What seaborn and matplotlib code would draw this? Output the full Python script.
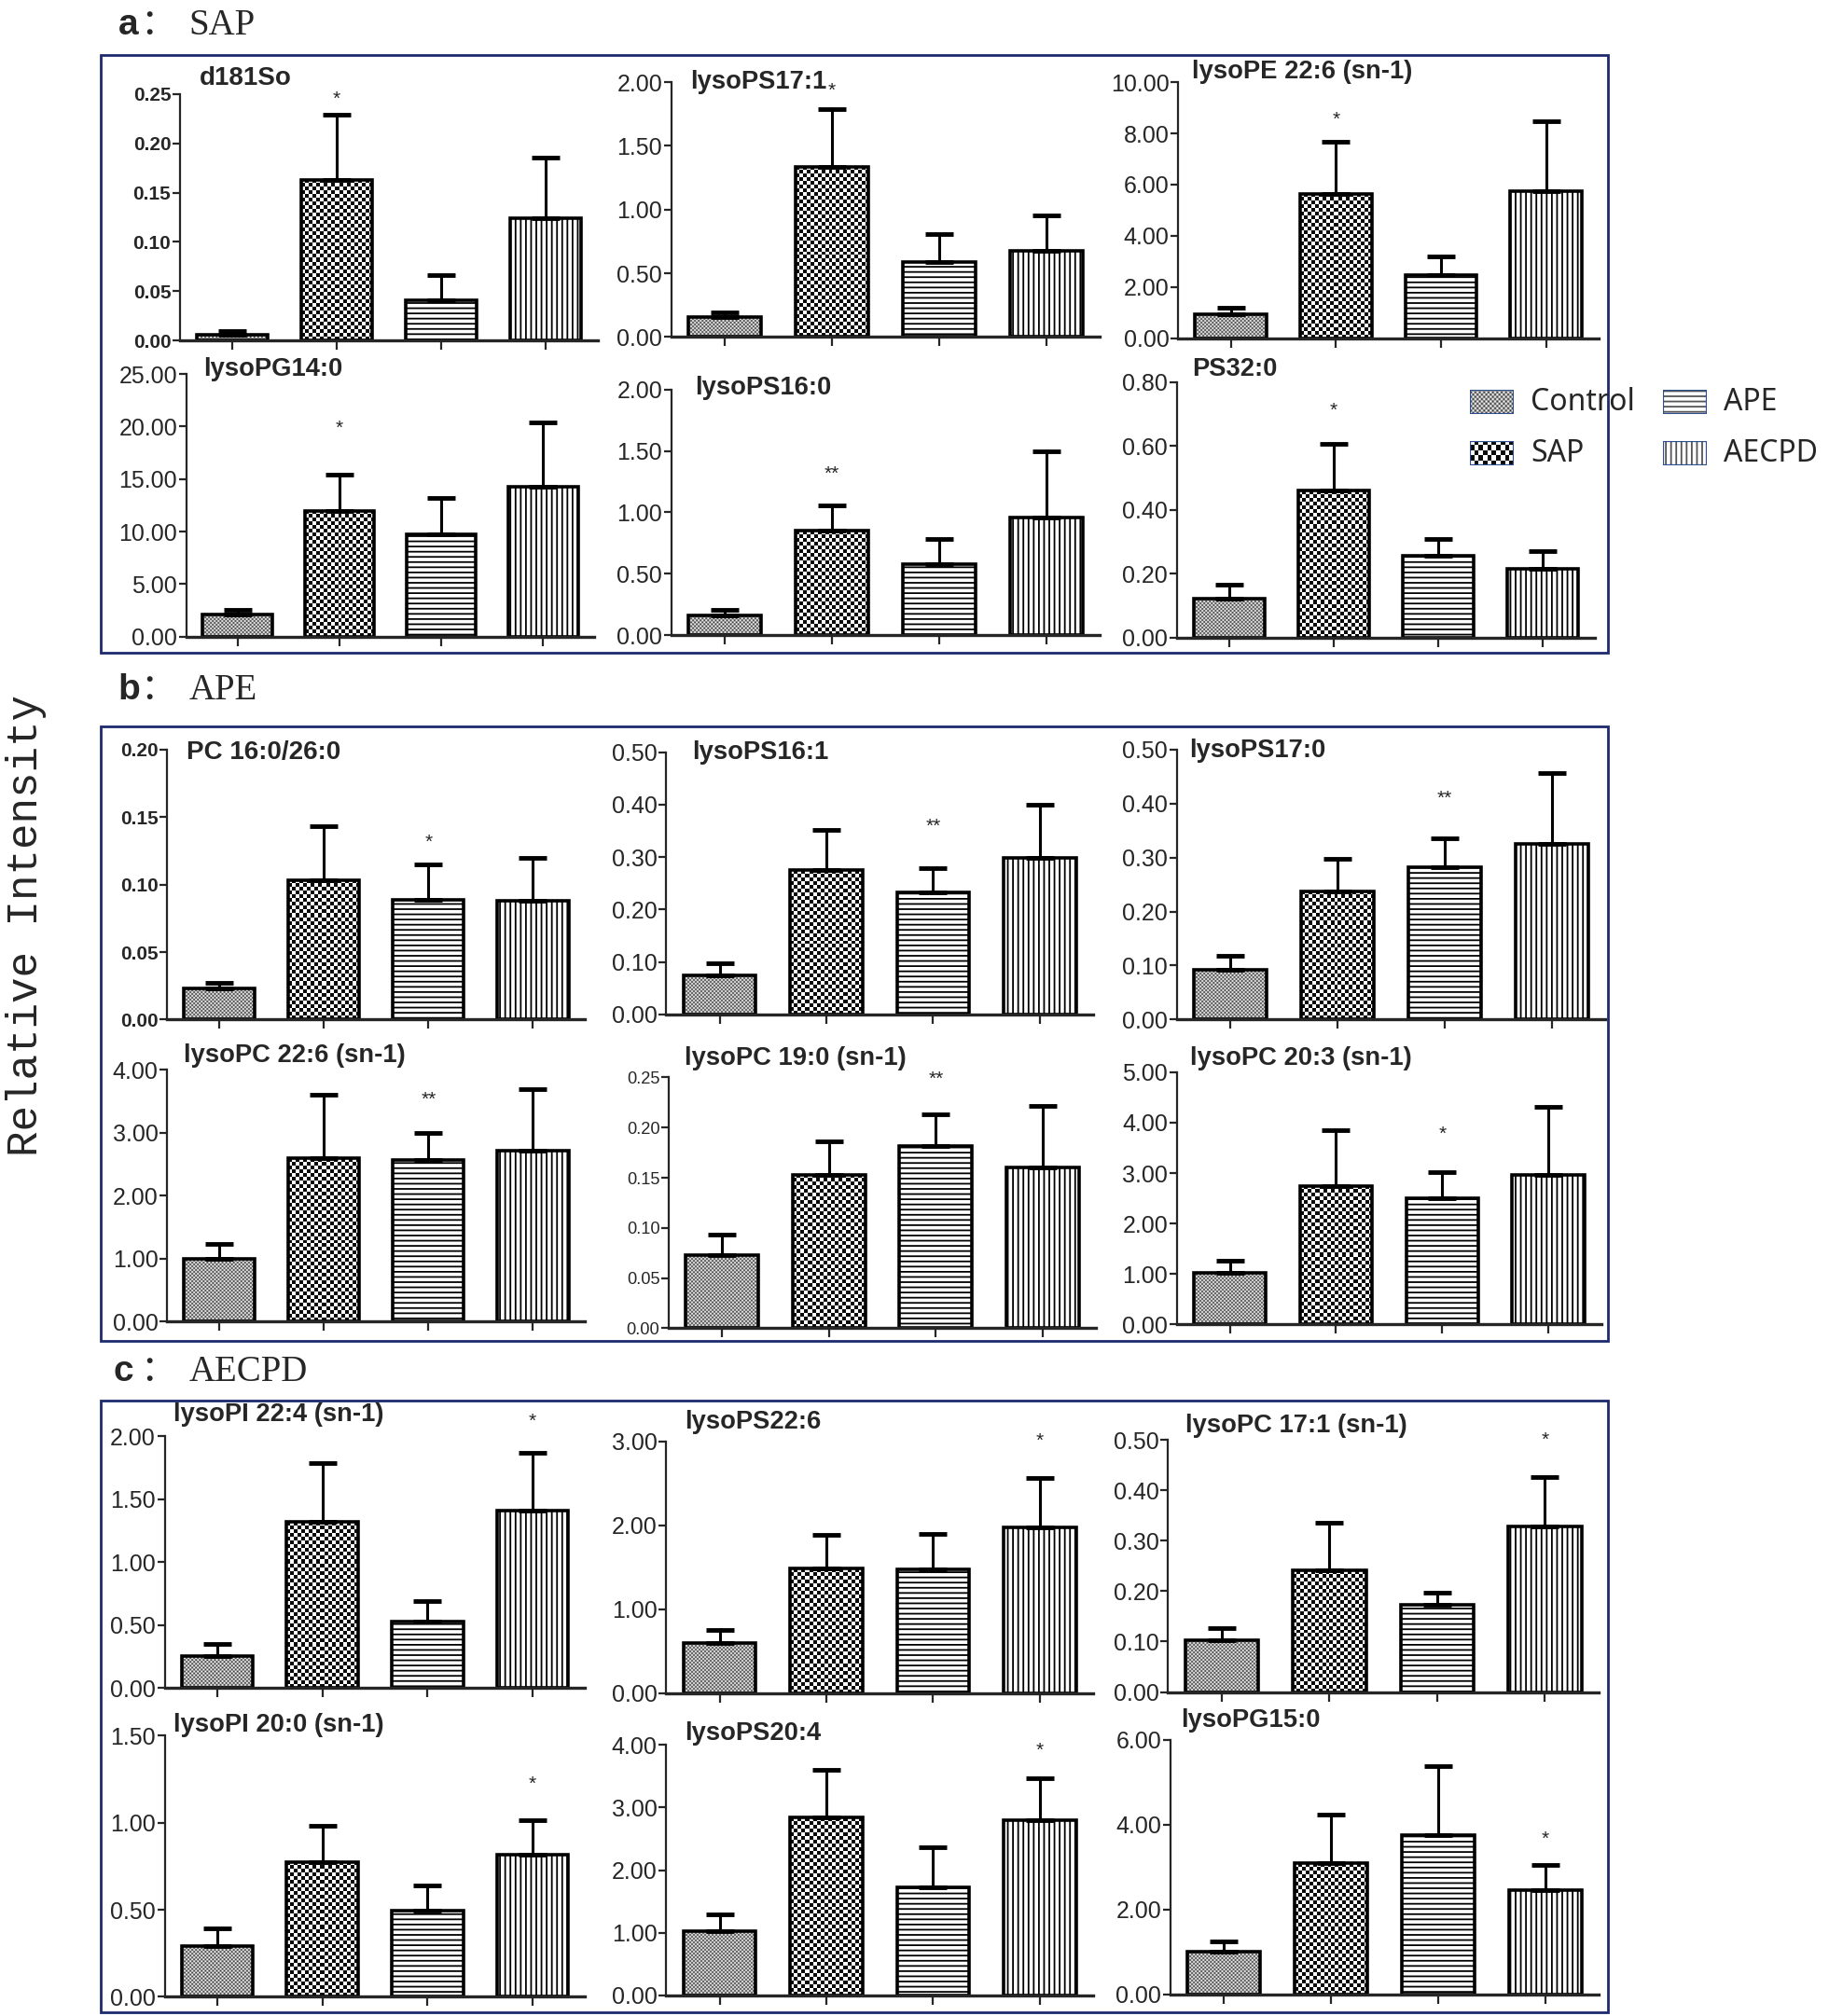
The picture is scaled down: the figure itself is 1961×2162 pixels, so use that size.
import numpy as np
import pandas as pd
import seaborn as sns
import matplotlib.pyplot as plt
from matplotlib import font_manager
from matplotlib.colors import ListedColormap
from matplotlib.patches import Rectangle

groups = ['Control', 'SAP', 'APE', 'AECPD']

# a: SAP
titles_a = ['d181So', 'lysoPS17:1', 'lysoPE 22:6 (sn-1)', 'lysoPG14:0', 'lysoPS16:0', 'PS32:0']
means_a = [[0.0063, 0.163, 0.041, 0.124],
           [0.156, 1.334, 0.589, 0.678],
           [0.93, 5.65, 2.48, 5.75],
           [2.06, 12.0, 9.73, 14.25],
           [0.158, 0.85, 0.58, 0.96],
           [0.121, 0.459, 0.256, 0.214]]
upper_a = [[0.0095, 0.229, 0.066, 0.185],
           [0.194, 1.79, 0.81, 0.957],
           [1.2, 7.68, 3.21, 8.47],
           [2.54, 15.4, 13.2, 20.4],
           [0.206, 1.057, 0.78, 1.50],
           [0.166, 0.607, 0.309, 0.27]]
ymax_a = [0.25, 2.0, 10.0, 25.0, 2.0, 0.8]
ystep_a = [0.05, 0.5, 2.0, 5.0, 0.5, 0.2]
stars_a = ['*', '*', '*', '*', '**', '*']
star_y_a = [0.245, 1.93, 8.53, 19.8, 1.31, 0.711]

# b: APE
titles_b = ['PC 16:0/26:0', 'lysoPS16:1', 'lysoPS17:0', 'lysoPC 22:6 (sn-1)', 'lysoPC 19:0 (sn-1)', 'lysoPC 20:3 (sn-1)']
means_b = [[0.0229, 0.103, 0.0887, 0.088],
           [0.074, 0.275, 0.233, 0.298],
           [0.093, 0.237, 0.282, 0.326],
           [1.0, 2.59, 2.56, 2.72],
           [0.0727, 0.153, 0.182, 0.160],
           [1.02, 2.75, 2.51, 2.97]]
upper_b = [[0.0274, 0.143, 0.115, 0.120],
           [0.097, 0.352, 0.279, 0.40],
           [0.118, 0.298, 0.336, 0.456],
           [1.23, 3.6, 3.0, 3.69],
           [0.0936, 0.186, 0.213, 0.222],
           [1.26, 3.86, 3.02, 4.32]]
ymax_b = [0.2, 0.5, 0.5, 4.0, 0.25, 5.0]
ystep_b = [0.05, 0.1, 0.1, 1.0, 0.05, 1.0]
stars_b = ['*', '**', '**', '**', '**', '*']
star_y_b = [0.131, 0.358, 0.409, 3.52, 0.248, 3.78]

# c: AECPD
titles_c = ['lysoPI 22:4 (sn-1)', 'lysoPS22:6', 'lysoPC 17:1 (sn-1)', 'lysoPI 20:0 (sn-1)', 'lysoPS20:4', 'lysoPG15:0']
means_c = [[0.256, 1.317, 0.53, 1.407],
           [0.593, 1.484, 1.48, 1.975],
           [0.102, 0.241, 0.173, 0.328],
           [0.292, 0.775, 0.494, 0.815],
           [1.03, 2.84, 1.72, 2.80],
           [1.0, 3.08, 3.75, 2.46]]
upper_c = [[0.349, 1.79, 0.69, 1.87],
           [0.753, 1.884, 1.898, 2.564],
           [0.127, 0.335, 0.197, 0.427],
           [0.392, 0.984, 0.64, 1.016],
           [1.29, 3.6, 2.37, 3.47],
           [1.24, 4.23, 5.37, 3.05]]
ymax_c = [2.0, 3.0, 0.5, 1.5, 4.0, 6.0]
ystep_c = [0.5, 1.0, 0.1, 0.5, 1.0, 2.0]
stars_c = ['*'] * 6
star_y_c = [2.12, 3.0, 0.50, 1.22, 3.90, 3.66]

panels = [('a', 'SAP', 1, titles_a, means_a, upper_a, ymax_a, ystep_a, stars_a, star_y_a),
          ('b', 'APE', 2, titles_b, means_b, upper_b, ymax_b, ystep_b, stars_b, star_y_b),
          ('c', 'AECPD', 3, titles_c, means_c, upper_c, ymax_c, ystep_c, stars_c, star_y_c)]

sns.set_style('ticks')
plt.rcParams['font.family'] = ['Liberation Sans', 'DejaVu Sans']
plt.rcParams['hatch.linewidth'] = 1.3

names = {f.name for f in font_manager.fontManager.ttflist}
if 'Liberation Sans Narrow' in names:
    NARROW, nscale = 'Liberation Sans Narrow', 1.0
else:
    NARROW, nscale = 'Liberation Sans', 0.82

W, H = 1422.0, 1568.0   # layout measured on the shrunk reference


def fx(x):
    return x / W


def fy(y):
    return 1 - y / H


# axes boxes: left, bottom, right, top
boxes = [(140, 265, 465, 73), (522, 262, 855, 64), (916, 263, 1243, 64),
         (145, 495, 462, 291), (522, 494, 855, 303), (915, 496, 1240, 297),
         (130, 793, 455, 583), (518, 789, 850, 585), (915, 793, 1248, 583),
         (130, 1028, 455, 832), (520, 1033, 852, 838), (915, 1030, 1245, 834),
         (128, 1313, 455, 1117), (518, 1317, 850, 1121), (908, 1316, 1243, 1120),
         (128, 1553, 455, 1350), (518, 1552, 850, 1357), (910, 1551, 1243, 1353)]
title_pos = [(155, 61), (537, 64), (927, 56), (158, 287), (540, 302), (927, 287),
             (145, 585), (538, 585), (925, 584), (143, 821), (532, 823), (925, 823),
             (135, 1100), (532, 1106), (922, 1109), (135, 1342), (532, 1348), (918, 1338)]
frames = [(78, 43, 1250, 508), (78, 565, 1250, 1043), (78, 1089, 1250, 1565)]
label_pos = [(92, 27), (92, 544), (88, 1074)]

checker_cell = {'Control': (2, '#3a3a3a'), 'SAP': (4, '#0a0a0a')}
hatches = {'APE': '---', 'AECPD': '|||'}


def fill_checker(ax, patch, cell, dark):
    bb = patch.get_window_extent()
    nx = max(1, int(round(bb.width / cell)))
    ny = max(1, int(round(bb.height / cell)))
    arr = np.add.outer(np.arange(ny), np.arange(nx)) % 2
    x0, y0 = patch.get_x(), patch.get_y()
    ax.imshow(arr, extent=(x0, x0 + patch.get_width(), y0, y0 + patch.get_height()),
              cmap=ListedColormap(['white', dark]), origin='lower', aspect='auto',
              zorder=0.8, clip_path=patch)
    patch.set_facecolor('none')


def apply_pattern(ax, patch, grp, scale=1):
    if grp in checker_cell:
        cell, dark = checker_cell[grp]
        fill_checker(ax, patch, cell * scale, dark)
    else:
        patch.set_hatch(hatches[grp])


fig = plt.figure(figsize=(19.61, 21.62), dpi=100)

k = 0
for letter, name, star_grp, titles, means, upper, ymax, ystep, stars, star_y in panels:
    for j in range(6):
        l, b, r, t = boxes[k]
        ax = fig.add_axes([fx(l), fy(b), fx(r) - fx(l), fy(t) - fy(b)])
        df = pd.DataFrame({'group': groups, 'value': means[j]})
        sns.barplot(data=df, x='group', y='value', order=groups, color='white',
                    edgecolor='black', linewidth=2.6, width=0.68, errorbar=None, ax=ax)
        ax.set_xlim(-0.5, 3.5)
        ax.set_ylim(0, ymax[j])
        for patch, grp in zip(ax.patches, groups):
            apply_pattern(ax, patch, grp)
        m = np.array(means[j])
        err = np.array(upper[j]) - m
        ax.errorbar(np.arange(4), m, yerr=[np.zeros(4), err], fmt='none', ecolor='black',
                    elinewidth=2.2, capsize=11, capthick=3.5, zorder=3)
        ax.text(star_grp, star_y[j], stars[j], ha='center', va='center', fontsize=15,
                clip_on=False)
        ax.set_xlabel('')
        ax.set_ylabel('')
        ticks = np.arange(0, ymax[j] + ystep[j] / 2, ystep[j])
        ax.set_yticks(ticks)
        ax.set_yticklabels(['%.2f' % v for v in ticks])
        ax.set_xticks(range(4))
        ax.tick_params(axis='x', labelbottom=False, length=7, width=1.6, direction='out')
        ax.tick_params(axis='y', length=6, width=1.6, direction='out', pad=1)
        sns.despine(ax=ax)
        ax.spines['left'].set_linewidth(1.6)
        ax.spines['bottom'].set_linewidth(2.4)
        if k in (0, 6):
            for lab in ax.get_yticklabels():
                lab.set_fontfamily('Liberation Sans')
                lab.set_fontweight('bold')
                lab.set_fontsize(15)
            tfam, tsize = 'Liberation Sans', 20
        else:
            tsz = 16 if k == 10 else 22
            for lab in ax.get_yticklabels():
                lab.set_fontfamily(NARROW)
                lab.set_fontsize(tsz * nscale)
            tfam, tsize = NARROW, 24 * nscale
        tx, ty = title_pos[k]
        fig.text(fx(tx), fy(ty), titles[j], family=tfam, fontweight='bold',
                 fontsize=tsize, ha='left', va='center')
        k += 1

for (l, t, r, b), (lx, ly), (letter, name) in zip(frames, label_pos,
                                                  [(p[0], p[1]) for p in panels]):
    fig.add_artist(Rectangle((fx(l), fy(b)), fx(r) - fx(l), fy(t) - fy(b),
                             transform=fig.transFigure, facecolor='none',
                             edgecolor='#1c2a6e', linewidth=2.0))
    fig.text(fx(lx), fy(ly), letter, family='Liberation Sans', fontweight='bold',
             fontsize=28, ha='left', va='baseline')
    fig.text(fx(123), fy(ly), '\uff1a', family=['Noto Sans CJK SC', 'DejaVu Sans'],
             fontsize=28, ha='center', va='baseline')
    fig.text(fx(147), fy(ly), name, family='Liberation Serif', fontsize=28,
             ha='left', va='baseline')

fig.text(fx(20), fy(720), 'Relative Intensity', family='Liberation Mono', fontsize=33,
         rotation=90, ha='center', va='center')

# legend drawn as small swatches
legend_pos = {'Control': (1143, 303), 'SAP': (1143, 343), 'APE': (1293, 303), 'AECPD': (1293, 343)}
for grp in groups:
    sx, sy = legend_pos[grp]
    lax = fig.add_axes([fx(sx), fy(sy + 19), fx(34), fy(0) - fy(19)])
    lax.set_xlim(0, 1)
    lax.set_ylim(0, 1)
    lax.axis('off')
    fill = Rectangle((0, 0), 1, 1, facecolor='white', edgecolor='#555555', linewidth=0)
    lax.add_patch(fill)
    apply_pattern(lax, fill, grp, scale=1.2)
    lax.add_patch(Rectangle((0, 0), 1, 1, facecolor='none', edgecolor='#2e4f8f',
                            linewidth=1.6, zorder=3))
    fig.text(fx(sx + 47), fy(sy + 10), grp, family='Noto Sans', fontsize=23,
             ha='left', va='center')

fig.savefig('out.png', dpi=100)
